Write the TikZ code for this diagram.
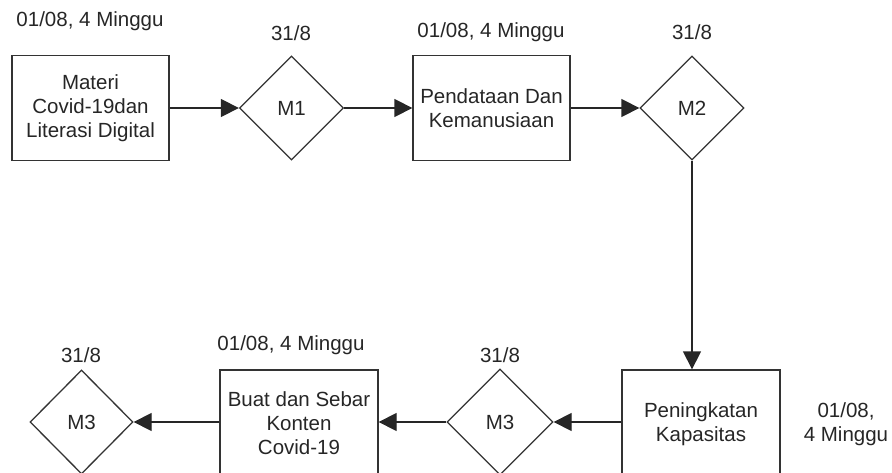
\documentclass[tikz,border=0pt]{standalone}
\usepackage{fontspec}
\setmainfont{Liberation Sans}
\usetikzlibrary{shapes.geometric,arrows.meta}
\begin{document}
\begin{tikzpicture}[x=1pt,y=-1pt,
  every node/.style={font=\fontsize{20.5}{24}\selectfont, text=black!85},
  task/.style={draw=black!80, line width=1.3pt, rectangle, minimum width=157pt, minimum height=105pt, align=center, inner sep=0pt},
  mile/.style={draw=black!80, line width=1.3pt, diamond, aspect=1, minimum width=104pt, minimum height=104pt, inner sep=0pt},
  lbl/.style={align=center, inner sep=0pt},
  conn/.style={draw=black!85, line width=1.3pt, -{Triangle[length=18pt,width=18pt]}}]
\useasboundingbox (0,0) rectangle (892,473);
\clip (0,0) rectangle (892,473);
\node[task] (t1) at (90.5,108) {Materi\\Covid-19dan\\Literasi Digital};
\node[mile] (m1) at (291.5,108) {M1};
\node[task] (t2) at (491.5,108) {Pendataan Dan\\Kemanusiaan};
\node[mile] (m2) at (692,108) {M2};
\node[task, minimum width=158pt, minimum height=109pt] (t3) at (701,424.5) {Peningkatan\\Kapasitas};
\node[mile, minimum width=106pt, minimum height=106pt] (m3b) at (500,422) {M3};
\node[task, minimum width=158pt, minimum height=106pt] (t4) at (299,423) {Buat dan Sebar\\Konten\\Covid-19};
\node[mile, minimum width=103pt, minimum height=104pt] (m3a) at (81.5,422) {M3};
\node[lbl] (l1) at (90,21) {01/08, 4 Minggu};
\node[lbl] (l2) at (291,33) {31/8};
\node[lbl] (l3) at (491,32) {01/08, 4 Minggu};
\node[lbl] (l4) at (692,32) {31/8};
\node[lbl] (l5) at (81,355) {31/8};
\node[lbl] (l6) at (291,345) {01/08, 4 Minggu};
\node[lbl] (l7) at (500,355) {31/8};
\node[lbl] (l8) at (846,424) {01/08,\\4 Minggu};
\draw[conn] (t1.east) -- (m1.west);
\draw[conn] (m1.east) -- (t2.west);
\draw[conn] (t2.east) -- (m2.west);
\draw[conn] (m2.south) -- (t3.north -| m2.south);
\draw[conn] (t3.west |- m3b.east) -- (m3b.east);
\draw[conn] (m3b.west) -- (t4.east |- m3b.west);
\draw[conn] (t4.west |- m3a.east) -- (m3a.east);
\end{tikzpicture}
\end{document}
